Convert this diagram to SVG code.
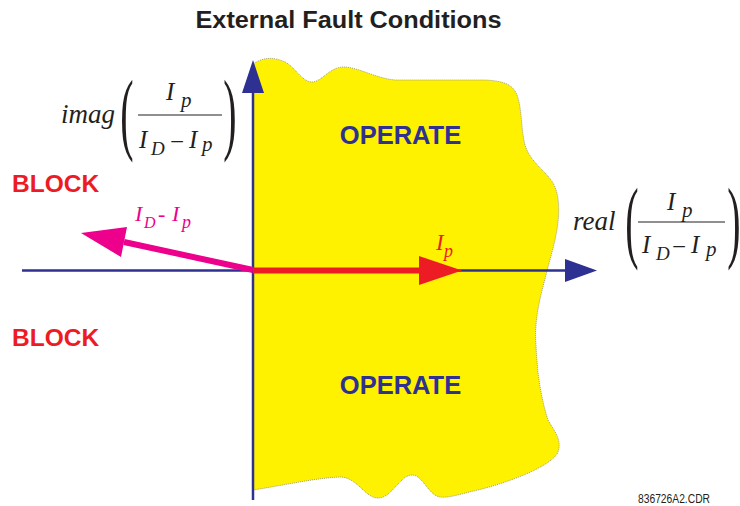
<svg xmlns="http://www.w3.org/2000/svg" width="740" height="506" viewBox="0 0 740 506">
<style>
.title{font-family:"Liberation Sans",Arial,sans-serif;font-weight:bold;font-size:23.5px;fill:#231F20}
.op{font-family:"Liberation Sans",Arial,sans-serif;font-weight:bold;font-size:25.5px;fill:#2E3192}
.blk{font-family:"Liberation Sans",Arial,sans-serif;font-weight:bold;font-size:24.5px;fill:#ED1C24}
.m{font-family:"Liberation Serif","Times New Roman",serif;font-style:italic;fill:#231F20}
.par{font-family:"Liberation Serif","Times New Roman",serif;font-size:40px;fill:#231F20;text-anchor:middle}
.mag{font-family:"Liberation Serif","Times New Roman",serif;font-style:italic;fill:#EC008C}
.red{font-family:"Liberation Serif","Times New Roman",serif;font-style:italic;fill:#ED1C24}
.cdr{font-family:"Liberation Sans",Arial,sans-serif;font-size:12px;fill:#231F20}
.axis{stroke:#2E3192;stroke-width:2.5;fill:none}
.bar{stroke:#231F20;stroke-width:1.2}
</style>
<g id="operate-region">
<path d="M253,64 C262,58 272,56 285,62 C295,67 302,82 312,82 C322,82 330,66 345,67 C360,68 375,78 395,80 L485,80 C505,81 513,85 517,95 C522,108 521,130 525,145 C530,162 545,170 553,183 C560,195 560,215 556,235 C553,250 549,262 546,275 C540,298 534,320 536,345 C537,370 540,395 548,420 C555,432 562,440 558,452 C552,466 510,482 478,490 C460,494 450,498 440,497 C428,495 423,475 412,475 C400,475 392,498 378,498 C365,498 357,477 340,477 C315,478 280,486 253,490 Z" fill="#FFF200" stroke="#8a8a6a" stroke-width="0.8" stroke-dasharray="1,1"/>
</g>
<g id="connectors">
<line class="axis" x1="22" y1="270.5" x2="566" y2="270.5"/>
<polygon points="565,259 597,270.5 565,282" fill="#2E3192"/>
<line class="axis" x1="253" y1="500" x2="253" y2="92"/>
<polygon points="242,93 253,60 264,93" fill="#2E3192"/>
<line x1="253" y1="270" x2="124" y2="242" stroke="#EC008C" stroke-width="6"/>
<polygon points="81,233 127,227 121,257" fill="#EC008C"/>
<line x1="253" y1="270.5" x2="421" y2="270.5" stroke="#ED1C24" stroke-width="6"/>
<polygon points="419,256 462,270.5 419,285" fill="#ED1C24"/>
</g>
<g id="title"><text class="title" x="348.5" y="28" text-anchor="middle" textLength="306" lengthAdjust="spacingAndGlyphs">External Fault Conditions</text></g>
<g id="operate-top"><text class="op" x="400.5" y="144" text-anchor="middle">OPERATE</text></g>
<g id="operate-bottom"><text class="op" x="400.5" y="394" text-anchor="middle">OPERATE</text></g>
<g id="block-top"><text class="blk" x="12" y="192">BLOCK</text></g>
<g id="block-bottom"><text class="blk" x="12" y="346">BLOCK</text></g>
<g id="label-id-ip"><text class="mag" font-size="22"><tspan x="135" y="221">I</tspan><tspan x="144" y="228" font-size="16">D</tspan><tspan x="158" y="221" font-style="normal">-</tspan><tspan x="172" y="221">I</tspan><tspan x="182" y="228" font-size="18">p</tspan></text></g>
<g id="label-ip"><text class="red" font-size="23"><tspan x="436" y="250">I</tspan><tspan x="444" y="257" font-size="18">p</tspan></text></g>
<g id="imag-axis-label">
<text class="m" x="61" y="123" font-size="27">imag</text>
<text class="par" transform="translate(127,143) scale(1,2.3)">(</text>
<text class="par" transform="translate(230,143) scale(1,2.3)">)</text>
<text class="m" font-size="25"><tspan x="166" y="100">I</tspan><tspan x="181" y="107" font-size="21">p</tspan></text>
<line class="bar" x1="138" y1="115" x2="222" y2="115"/>
<text class="m" font-size="25"><tspan x="139" y="148">I</tspan><tspan x="151" y="155" font-size="19">D</tspan><tspan x="170" y="150" font-style="normal">−</tspan><tspan x="189" y="148">I</tspan><tspan x="202" y="151" font-size="21">p</tspan></text>
</g>
<g id="real-axis-label">
<text class="m" x="573" y="230" font-size="27">real</text>
<text class="par" transform="translate(632,251) scale(1,2.3)">(</text>
<text class="par" transform="translate(734,251) scale(1,2.3)">)</text>
<text class="m" font-size="25"><tspan x="667" y="210">I</tspan><tspan x="682" y="217" font-size="21">p</tspan></text>
<line class="bar" x1="638" y1="222" x2="725" y2="222"/>
<text class="m" font-size="25"><tspan x="642" y="253">I</tspan><tspan x="656" y="260" font-size="19">D</tspan><tspan x="672" y="255" font-style="normal">−</tspan><tspan x="691" y="253">I</tspan><tspan x="706" y="256" font-size="21">p</tspan></text>
</g>
<g id="file-code"><text class="cdr" x="638" y="503" textLength="72" lengthAdjust="spacingAndGlyphs">836726A2.CDR</text></g>
</svg>
